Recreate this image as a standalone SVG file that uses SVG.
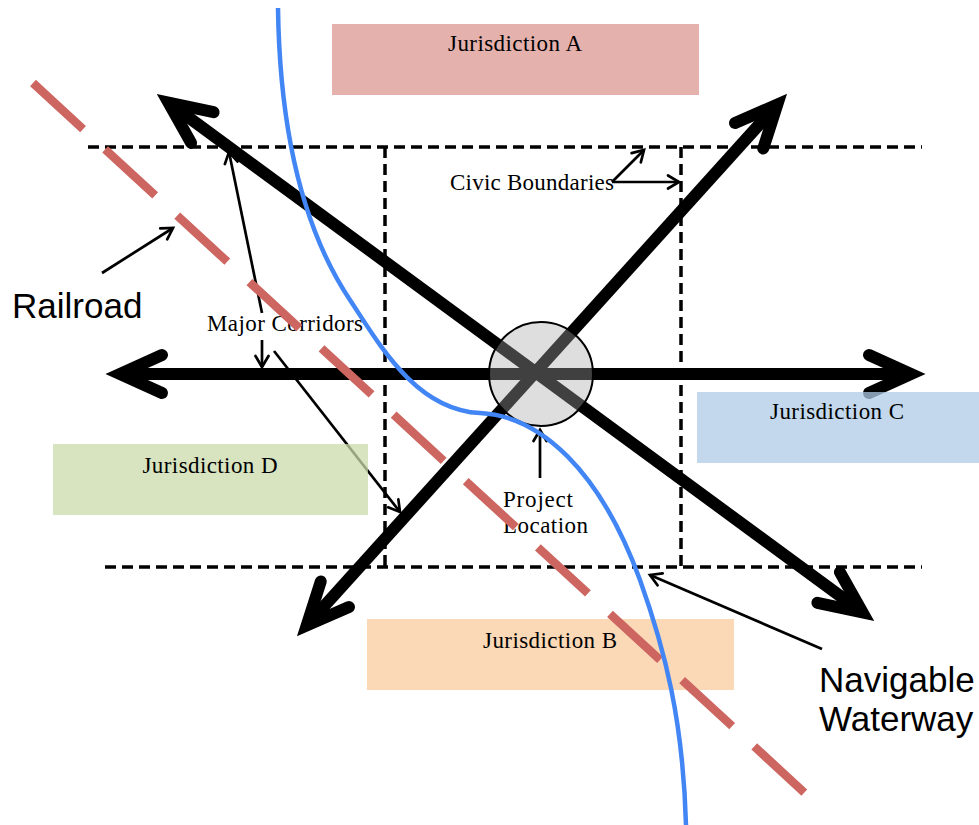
<svg xmlns="http://www.w3.org/2000/svg" width="979" height="825" viewBox="0 0 979 825">
  <defs>
    <style>
      .boundary { fill: none; stroke: #000; stroke-width: 3.5; stroke-dasharray: 11 6; }
      .corridor { fill: none; stroke: #000; stroke-width: 12; marker-start: url(#bigHead); marker-end: url(#bigHead); }
      .pointer { fill: none; stroke: #000; stroke-width: 2.7; marker-end: url(#smallHead); }
      .serif { font-family: "Liberation Serif", "Times New Roman", serif; font-size: 23px; fill: #000; }
      .sans { font-family: "Liberation Sans", Arial, sans-serif; font-size: 35px; fill: #000; }
      .zone { fill-opacity: 0.75; }
    </style>
    <marker id="bigHead" viewBox="-70 -40 90 80" markerWidth="90" markerHeight="80" refX="0" refY="0" markerUnits="userSpaceOnUse" orient="auto-start-reverse">
      <path d="M-42,-19 L0,0 L-42,19" fill="none" stroke="#000" stroke-width="12" stroke-linecap="round" stroke-linejoin="miter"/>
    </marker>
    <marker id="smallHead" viewBox="-20 -12 30 24" markerWidth="30" markerHeight="24" refX="0" refY="0" markerUnits="userSpaceOnUse" orient="auto">
      <path d="M-11,-6.5 L0,0 L-11,6.5" fill="none" stroke="#000" stroke-width="2.7" stroke-linecap="round"/>
    </marker>
  </defs>

  <rect width="979" height="825" fill="#fff"/>

  <!-- civic boundaries -->
  <g id="civic-boundaries">
    <line class="boundary" x1="88" y1="147" x2="922" y2="147"/>
    <line class="boundary" x1="105" y1="567" x2="922" y2="567"/>
    <line class="boundary" x1="385" y1="147" x2="385" y2="567"/>
    <line class="boundary" x1="681" y1="147" x2="681" y2="567"/>
  </g>

  <!-- major corridors -->
  <g id="major-corridors">
    <line class="corridor" x1="120" y1="374" x2="911" y2="374"/>
    <line class="corridor" x1="168.5" y1="102.7" x2="862.5" y2="612.3"/>
    <line class="corridor" x1="306.7" y1="625.4" x2="777.3" y2="104.6"/>
  </g>

  <!-- project location marker -->
  <g id="project-location">
    <circle cx="541" cy="374" r="52" fill="#a8a8a8" fill-opacity="0.38" stroke="#000" stroke-width="2"/>
  </g>

  <!-- annotation connectors -->
  <g id="connectors">
    <line class="pointer" x1="612" y1="182" x2="679" y2="182"/>
    <line class="pointer" x1="612" y1="182" x2="644" y2="150"/>
    <line class="pointer" x1="262" y1="313" x2="229" y2="152"/>
    <line class="pointer" x1="262" y1="340" x2="262" y2="367"/>
    <line class="pointer" x1="274" y1="351" x2="400" y2="512"/>
    <line class="pointer" x1="540" y1="478" x2="540" y2="430"/>
    <line class="pointer" x1="822" y1="649" x2="650" y2="575"/>
    <line class="pointer" x1="102" y1="273" x2="173" y2="228"/>
  </g>

  <!-- jurisdictions -->
  <g id="jurisdiction-a">
    <rect class="zone" x="332" y="24" width="367" height="71" fill="#dc9792"/>
    <text class="serif" x="515" y="51" text-anchor="middle" textLength="134">Jurisdiction A</text>
  </g>
  <g id="jurisdiction-c">
    <rect class="zone" x="697" y="392" width="282" height="71" fill="#afcbe6"/>
    <text class="serif" x="837" y="419" text-anchor="middle" textLength="134">Jurisdiction C</text>
  </g>
  <g id="jurisdiction-d">
    <rect class="zone" x="53" y="444" width="315" height="71" fill="#cbdbab"/>
    <text class="serif" x="210" y="473" text-anchor="middle" textLength="135">Jurisdiction D</text>
  </g>
  <g id="jurisdiction-b">
    <rect class="zone" x="367" y="619" width="367" height="71" fill="#facb9e"/>
    <text class="serif" x="550" y="648" text-anchor="middle" textLength="134">Jurisdiction B</text>
  </g>

  <!-- labels -->
  <g id="labels">
    <text class="serif" x="450" y="190" textLength="164">Civic Boundaries</text>
    <text class="serif" x="207" y="331" textLength="156">Major Corridors</text>
    <text class="serif" x="503" y="507" textLength="70">Project</text>
    <text class="serif" x="503" y="533" textLength="85">Location</text>
    <text class="sans" x="12" y="318">Railroad</text>
    <text class="sans" x="819" y="692">Navigable</text>
    <text class="sans" x="819" y="731">Waterway</text>
  </g>

  <!-- railroad -->
  <g id="railroad">
    <line x1="33" y1="83" x2="807" y2="795" stroke="#cd6660" stroke-width="8.5" stroke-dasharray="68 30"/>
  </g>

  <!-- navigable waterway -->
  <g id="waterway">
    <path d="M278,8 C280,150 310,240 350,300 C378,342 415,410 480,413 C540,416 600,470 640,580 C665,650 683,720 686,825" fill="none" stroke="#4285f4" stroke-width="4.5"/>
  </g>
</svg>
